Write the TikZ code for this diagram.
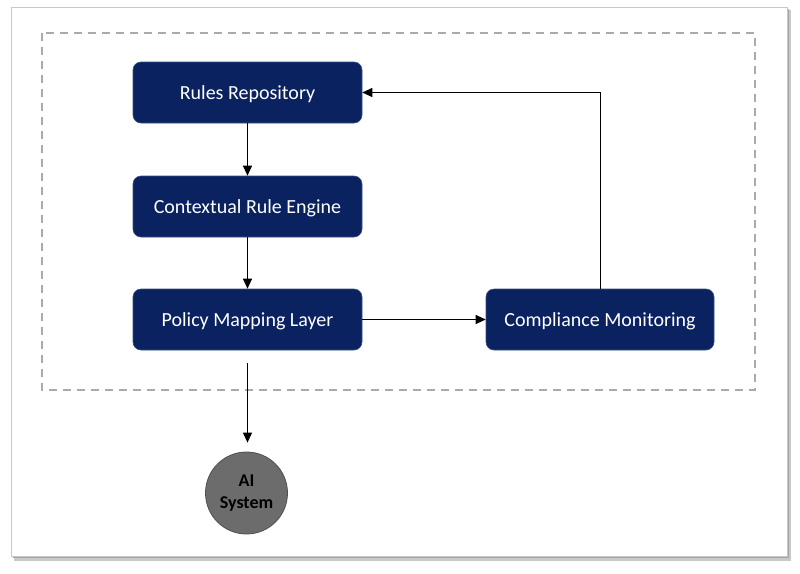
\documentclass[tikz,border=0pt]{standalone}
\usepackage{fontspec}
\setmainfont{Carlito}
\usetikzlibrary{arrows.meta,calc}
\definecolor{navy}{RGB}{10,34,96}
\definecolor{dashgray}{RGB}{170,170,170}
\definecolor{framegray}{RGB}{200,200,200}
\definecolor{shadowgray}{RGB}{165,165,165}
\definecolor{aifill}{RGB}{108,108,108}
\definecolor{aiborder}{RGB}{80,80,80}
\begin{document}
\begin{tikzpicture}[x=1pt,y=-1pt,
  box/.style={draw=navy!80!white, line width=0.6pt, fill=navy, rounded corners=8pt,
    minimum width=229pt, minimum height=61pt, inner sep=0pt,
    text height=13pt, text depth=0pt,
    text=white, font=\fontsize{20}{24}\selectfont},
  aicirc/.style={circle, draw=aiborder, line width=0.8pt, fill=aifill, minimum size=82pt,
    inner sep=0pt, align=center, text=black, font=\fontsize{18}{23}\selectfont\bfseries},
  conn/.style={draw=black, line width=1pt},
  arr/.style={conn, -{Triangle[length=10pt,width=9pt]}}]
\useasboundingbox (0,0) rectangle (800,573);
% outer frame with shadow
\fill[shadowgray!60] (14,10) rectangle (791,561);
\fill[shadowgray] (13,9) rectangle (789,558);
\draw[framegray, line width=1pt, fill=white] (11,7) rectangle (787,556);
% dashed container
\draw[dashgray, line width=1.5pt, dash pattern=on 8pt off 6pt] (42,33) rectangle (755,390);
% nodes
\node[box] (rules) at (247.5,92.5) {Rules Repository};
\node[box] (ctx) at (247.5,206.5) {Contextual Rule Engine};
\node[box] (pol) at (247.5,319.5) {Policy Mapping Layer};
\node[box, minimum width=228pt] (comp) at (600,319.5) {Compliance Monitoring};
\node[aicirc] (ai) at (246.5,493) {\raisebox{-1.5pt}{AI}\\System};
\coordinate (polout) at (247.5,363);
% connectors
\draw[arr] (rules) -- (ctx);
\draw[arr] (ctx) -- (pol);
\draw[arr] (pol) -- (comp);
\draw[arr] (comp.north) |- (rules.east);
\draw[arr, shorten >=9pt] (polout) -- (polout |- ai.north);
\end{tikzpicture}
\end{document}
